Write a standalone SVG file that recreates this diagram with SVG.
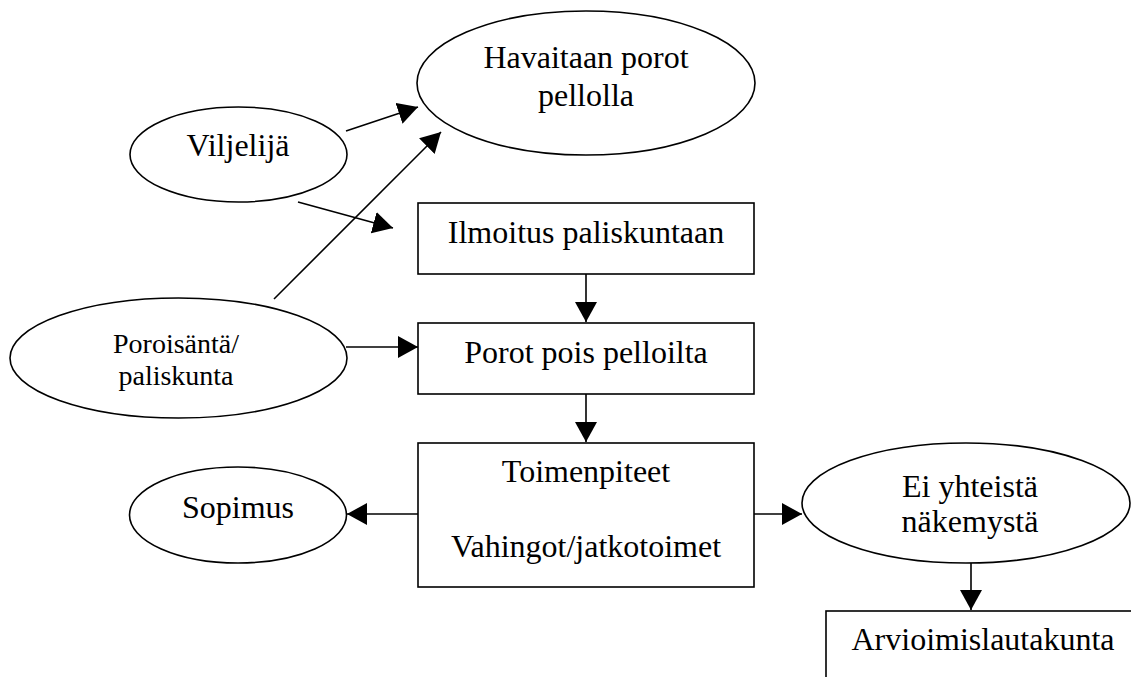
<svg xmlns="http://www.w3.org/2000/svg" width="1131" height="677" viewBox="0 0 1131 677">
<style>
.shape{fill:#fff;stroke:#000;stroke-width:1.6}
.t{font-family:"Liberation Serif","Times New Roman",serif;font-size:32px;fill:#000;text-anchor:middle}
.s{font-size:28px}
.c line{stroke:#000;stroke-width:1.6}
</style>
<defs>
<marker id="ah" markerUnits="userSpaceOnUse" markerWidth="21" markerHeight="22" refX="20" refY="11" orient="auto" viewBox="0 0 21 22">
<path d="M0,0 L20,11 L0,22 z" fill="#000"/>
</marker>
</defs>
<rect width="1131" height="677" fill="#fff"/>
<g id="havaitaan">
<ellipse class="shape" cx="586" cy="83" rx="169" ry="72"/>
<text class="t" x="586" y="68">Havaitaan porot</text>
<text class="t" x="586" y="106">pellolla</text>
</g>
<g id="viljelija">
<ellipse class="shape" cx="238.5" cy="154.5" rx="108.5" ry="47.5"/>
<text class="t" x="238" y="156">Viljelijä</text>
</g>
<g id="ilmoitus">
<rect class="shape" x="418" y="203" width="336" height="71"/>
<text class="t" x="586" y="243">Ilmoitus paliskuntaan</text>
</g>
<g id="poroisanta">
<ellipse class="shape" cx="178.5" cy="358" rx="168.5" ry="60"/>
<text class="t s" x="176" y="353">Poroisäntä/</text>
<text class="t s" x="176" y="385">paliskunta</text>
</g>
<g id="porot">
<rect class="shape" x="418" y="323" width="336" height="71"/>
<text class="t" x="586" y="363">Porot pois pelloilta</text>
</g>
<g id="toimenpiteet">
<rect class="shape" x="418" y="443" width="336" height="144"/>
<text class="t" x="586" y="482">Toimenpiteet</text>
<text class="t" x="586" y="557">Vahingot/jatkotoimet</text>
</g>
<g id="sopimus">
<ellipse class="shape" cx="238" cy="515" rx="108.5" ry="48"/>
<text class="t" x="238" y="518">Sopimus</text>
</g>
<g id="ei-yhteista">
<ellipse class="shape" cx="966" cy="503" rx="164" ry="60"/>
<text class="t" x="970" y="497">Ei yhteistä</text>
<text class="t" x="970" y="532">näkemystä</text>
</g>
<g id="arvioimislautakunta">
<rect class="shape" x="826" y="611" width="400" height="200"/>
<text class="t" x="983" y="650">Arvioimislautakunta</text>
</g>
<g id="connectors" class="c">
<line x1="346" y1="131" x2="418" y2="107" marker-end="url(#ah)"/>
<line x1="298" y1="202" x2="393" y2="228" marker-end="url(#ah)"/>
<line x1="274" y1="299" x2="441" y2="132" marker-end="url(#ah)"/>
<line x1="586" y1="274" x2="586" y2="322" marker-end="url(#ah)"/>
<line x1="346" y1="347" x2="418" y2="347" marker-end="url(#ah)"/>
<line x1="586" y1="394" x2="586" y2="442" marker-end="url(#ah)"/>
<line x1="418" y1="514" x2="347" y2="514" marker-end="url(#ah)"/>
<line x1="754" y1="514" x2="802" y2="514" marker-end="url(#ah)"/>
<line x1="971" y1="563" x2="971" y2="610" marker-end="url(#ah)"/>
</g>
</svg>
